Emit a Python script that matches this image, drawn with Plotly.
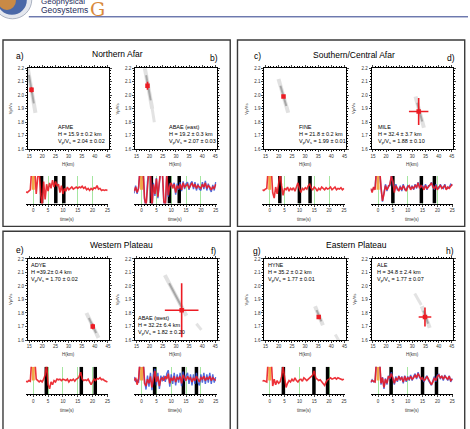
import plotly.graph_objects as go

W, H = 470, 429
def fx(p): return p / W
def fy(p): return 1 - p / H

# ---------------- data ----------------
panel_letters = ["a)", "b)", "c)", "d)", "e)", "f)", "g)", "h)"]
region_titles = ["Northern Afar", "Southern/Central Afar", "Western Plateau", "Eastern Plateau"]
station_names = ["AFME", "ABAE (east)", "FINE", "MILE", "ADYE", "ABAE (west)", "HYNE", "ALE"]
H_km = [15.9, 19.2, 21.8, 32.4, 39.2, 32.2, 35.2, 34.8]
H_err = [0.2, 0.3, 0.2, 3.7, 0.4, 6.4, 0.2, 2.4]
VpVs = [2.04, 2.07, 1.99, 1.88, 1.70, 1.82, 1.77, 1.77]
VpVs_err = [0.02, 0.03, 0.01, 0.10, 0.02, 0.20, 0.01, 0.07]
H_lines = ["H = 15.9 ± 0.2 km", "H = 19.2 ± 0.3 km", "H = 21.8 ± 0.2 km", "H = 32.4 ± 3.7 km",
           "H =39.2± 0.4 km", "H = 32.2± 6.4 km", "H = 35.2 ± 0.2 km", "H = 34.8 ± 2.4 km"]
K_lines = ["2.04 ± 0.02", "2.07 ± 0.03", "1.99 ± 0.01", "1.88 ± 0.10",
           "1.70 ± 0.02", "1.82 ± 0.20", "1.77 ± 0.01", "1.77 ± 0.07"]

# H-k stack ridges (start H, start k, end H, end k)
ridge_h0 = [14.3, 18.1, 19.9, 31.2, 36.8, 25.8, 33.8, 33.6]
ridge_k0 = [2.22, 2.21, 2.12, 1.99, 1.80, 2.08, 1.85, 1.85]
ridge_h1 = [17.4, 21.0, 23.6, 34.4, 41.4, 34.0, 36.8, 36.6]
ridge_k1 = [1.87, 1.90, 1.87, 1.76, 1.615, 1.78, 1.71, 1.69]
# faint secondary ridges
side_h0 = [None, 21.0, None, None, None, 37.8, 41.5, 30.9]
side_k0 = [None, 1.90, None, None, None, 1.72, 1.64, 1.944]
side_h1 = [None, 21.8, None, None, None, 39.7, 43.0, 33.4]
side_k1 = [None, 1.80, None, None, None, 1.675, 1.59, 1.859]

# predicted phase times (s): Ps, PpPs, PsPs
ps_t = [2.8, 3.3, 3.4, 5.0, 4.4, 4.4, 4.6, 4.4]
ppps_t = [7.6, 9.4, 10.0, 14.6, 16.2, 14.1, 14.9, 15.0]
psps_t = [10.3, 12.7, 13.6, 19.0, 20.9, 18.5, 19.5, 19.7]

T = [-2.5, -2.0, -1.5, -1.0, -0.5, 0.0, 0.5, 1.0, 1.5, 2.0,
     2.5, 3.0, 3.5, 4.0, 4.5, 5.0, 5.5, 6.0, 6.5, 7.0,
     7.5, 8.0, 8.5, 9.0, 9.5, 10.0, 10.5, 11.0, 11.5, 12.0,
     12.5, 13.0, 13.5, 14.0, 14.5, 15.0, 15.5, 16.0, 16.5, 17.0,
     17.5, 18.0, 18.5, 19.0, 19.5, 20.0, 20.5, 21.0, 21.5, 22.0,
     22.5, 23.0, 23.5, 24.0, 24.5, 25.0]

red_a = [-0.15, -0.2, -0.1, 0.0, 1.6, 1.8, 1.6, -0.3, 0.9, 1.4,
         -0.3, -1.2, 0.6, -0.7, 0.4, -0.1, 0.5, 0.1, 0.7, 0.2,
         0.6, 0.3, 0.4, -0.2, 0.3, -0.3, 0.1, -0.1, 0.2, 0.0,
         0.1, 0.2, 0.05, 0.15, 0.2, 0.1, 0.2, 0.15, 0.25, 0.1,
         0.2, 0.0, 0.1, -0.05, 0.1, 0.0, 0.15, 0.1, 0.3, 0.05,
         0.1, -0.05, 0.0, -0.05, 0.0, -0.05]
red_b = [-0.1, 0.2, -0.2, 0.1, 1.6, 1.8, 1.6, -0.6, -1.2, 0.5,
         1.5, 1.2, -1.2, 0.4, -0.3, 0.8, -0.5, 0.6, 1.5, 1.4,
         -0.8, -1.3, 1.2, -0.4, 0.3, 0.5, 0.1, 0.4, -0.2, 0.3,
         0.1, 0.4, 0.0, 0.5, 0.2, 0.3, 0.4, 0.1, 0.3, 0.5,
         0.2, 0.4, 0.1, 0.3, 0.2, 0.1, 0.4, 0.2, 0.5, 0.1,
         0.3, 0.2, 0.0, 0.2, 0.1, 0.4]
blue_b = [-0.25, 0.3, -0.3, 0.2, 1.6, 1.8, 1.6, -0.7, -1.3, 0.6,
          1.5, 1.1, -1.3, 0.5, -0.45, 0.85, -0.6, 0.7, 1.5, 1.3,
          -0.9, -1.3, 1.1, -0.5, 0.45, 0.35, 0.25, 0.5, -0.35, 0.45,
          0.0, 0.55, -0.1, 0.6, 0.05, 0.45, 0.55, 0.0, 0.45, 0.6,
          0.05, 0.55, -0.05, 0.45, 0.05, -0.05, 0.55, 0.05, 0.65, -0.05,
          0.45, 0.05, -0.15, 0.35, -0.05, 0.55]
red_c = [0.0, -0.05, 0.05, 0.1, 1.6, 1.8, 1.6, -0.2, -0.6, 0.2,
         -0.3, 0.6, 1.2, 0.3, -0.4, 0.1, 0.0, 0.2, -0.1, 0.1,
         0.0, 0.15, -0.1, 0.2, 0.5, 0.1, -0.2, 0.1, 0.0, 0.15,
         0.05, 0.3, 0.4, 0.1, 0.0, 0.2, 0.1, -0.1, 0.1, 0.0,
         0.2, 0.1, 0.0, 0.15, 0.05, 0.1, 0.2, 0.0, 0.1, 0.2,
         0.0, 0.1, 0.05, 0.15, 0.0, 0.1]
red_d = [0.1, -0.2, 0.2, 0.0, 1.6, 1.8, 1.6, 0.2, -0.8, -0.3,
         0.3, 0.0, 0.2, 0.4, 1.0, 0.6, -0.2, 0.3, 0.1, -0.1,
         0.2, 0.0, 0.3, 0.1, -0.1, 0.2, 0.3, 0.0, 0.2, 0.1,
         0.3, 0.2, 0.5, 0.1, 0.3, 0.2, 0.0, 0.3, 0.1, 0.2,
         0.4, 0.5, 0.2, 0.1, 0.3, 0.0, 0.2, 0.3, 0.1, 0.2,
         0.3, 0.0, 0.2, 0.1, 0.3, 0.4]
blue_d = [0.0, -0.05, 0.1, 0.15, 1.6, 1.8, 1.6, 0.1, -0.85, -0.2,
          0.4, -0.1, 0.3, 0.3, 1.05, 0.5, -0.1, 0.4, 0.0, 0.0,
          0.3, -0.1, 0.4, 0.0, 0.0, 0.3, 0.2, 0.1, 0.3, 0.0,
          0.4, 0.1, 0.55, 0.2, 0.2, 0.3, 0.1, 0.4, 0.0, 0.3,
          0.3, 0.55, 0.3, 0.0, 0.4, 0.1, 0.1, 0.4, 0.2, 0.1,
          0.4, 0.1, 0.1, 0.2, 0.4, 0.3]
red_e = [-0.05, -0.1, 0.0, -0.05, 1.6, 1.8, 1.6, 0.1, 0.0, -0.1,
         0.0, -0.1, 0.1, 0.4, 1.2, -0.3, -0.6, -0.1, -0.3, 0.0,
         -0.1, 0.1, 0.05, 0.1, 0.0, 0.1, 0.05, 0.0, 0.1, -0.1,
         0.05, 0.0, 0.1, -0.05, 0.1, 0.15, 0.3, 0.6, 0.1, 0.0,
         0.05, 0.0, 0.1, -0.1, -0.3, -0.1, 0.1, 0.0, 0.15, 0.1,
         0.2, 0.05, 0.1, 0.0, -0.05, -0.1]
red_f = [0.0, 0.2, -0.3, 0.1, 1.6, 1.8, 1.6, -0.2, -0.4, 0.1,
         -0.2, 0.3, -0.5, 0.2, 0.7, -0.1, 0.3, -0.4, 0.1, 0.2,
         0.0, 0.3, 0.1, 0.5, -0.2, 0.2, 0.0, 0.3, -0.1, 0.2,
         0.1, 0.3, -0.2, 0.4, 0.2, 0.0, 0.3, 0.1, 0.2, -0.1,
         0.2, 0.0, 0.3, 0.1, -0.1, 0.2, 0.1, 0.3, 0.0, 0.2,
         0.1, 0.3, 0.0, 0.2, 0.1, 0.0]
blue_f = [0.25, -0.1, 0.05, -0.15, 1.6, 1.8, 1.6, 0.05, -0.65, 0.35,
          -0.45, 0.55, -0.7, 0.45, 0.85, -0.35, 0.55, -0.6, 0.35, -0.05,
          0.35, -0.1, 0.5, 0.75, -0.45, 0.45, -0.25, 0.55, -0.35, 0.45,
          -0.15, 0.55, -0.4, 0.65, -0.05, 0.35, 0.55, -0.25, 0.45, -0.35,
          0.45, -0.25, 0.55, -0.15, -0.35, 0.45, -0.15, 0.55, -0.25, 0.45,
          -0.15, 0.55, -0.25, 0.45, -0.15, 0.25]
red_g = [-0.05, 0.0, -0.05, -0.1, 1.6, 1.8, 1.6, -0.4, 0.1, -0.3,
         0.0, -0.2, -0.1, 0.3, 1.0, 0.1, -0.5, -0.2, 0.0, -0.1,
         0.1, -0.05, 0.2, 0.0, -0.1, 0.05, 0.1, -0.05, 0.2, 0.1,
         0.0, 0.1, 0.2, 0.3, 0.4, 0.7, 0.2, 0.1, 0.0, 0.05,
         -0.1, -0.2, -0.35, -0.1, 0.05, 0.1, 0.2, 0.1, 0.15, 0.2,
         0.1, 0.2, 0.15, 0.1, 0.05, 0.1]
red_h = [-0.1, 0.0, -0.05, -0.1, 1.6, 1.8, 1.6, -0.2, 0.2, -0.5,
         0.1, -0.2, 0.3, 0.2, 0.5, 0.1, -0.2, 0.2, 0.0, 0.3,
         0.1, 0.2, -0.1, 0.3, 0.0, 0.2, 0.1, 0.3, 0.1, 0.2,
         0.4, 0.2, 0.5, 0.3, 0.1, 0.2, 0.0, 0.1, 0.3, 0.1,
         -0.1, -0.3, -0.1, 0.2, 0.0, 0.3, 0.4, 0.2, 0.3, 0.1,
         0.3, 0.2, 0.1, 0.3, 0.0, 0.1]
blue_h = [-0.15, 0.05, -0.1, -0.05, 1.6, 1.8, 1.6, -0.3, 0.25, -0.6,
          0.15, -0.3, 0.35, 0.1, 0.6, 0.0, -0.3, 0.3, -0.1, 0.35,
          0.0, 0.3, -0.2, 0.35, -0.1, 0.3, 0.0, 0.4, 0.0, 0.3,
          0.5, 0.1, 0.6, 0.2, 0.2, 0.1, -0.1, 0.2, 0.35, 0.0,
          -0.2, -0.35, 0.0, 0.3, -0.1, 0.4, 0.45, 0.1, 0.35, 0.0,
          0.4, 0.15, 0.0, 0.35, -0.1, 0.15]

red_traces = [red_a, red_b, red_c, red_d, red_e, red_f, red_g, red_h]
blue_traces = [None, blue_b, None, blue_d, None, blue_f, None, blue_h]

# ---------------- style ----------------
FONT = "Liberation Sans, Arial, sans-serif"
RED = "#ec1c24"
BLUE = "#3553d6"

fig = go.Figure()
layout = dict(width=W, height=H, margin=dict(l=0, r=0, t=0, b=0),
              paper_bgcolor="white", plot_bgcolor="white", showlegend=False,
              font=dict(family=FONT, size=5, color="black"))
annotations = []
shapes = []

def ann(x, y, text, size, color="black", xanchor="center", yanchor="middle", **kw):
    d = dict(x=fx(x), y=fy(y), xref="paper", yref="paper", text=text, showarrow=False,
             xanchor=xanchor, yanchor=yanchor, font=dict(size=size, color=color))
    d.update(kw)
    annotations.append(d)

def ax_name(n, kind):
    return kind if n == 1 else f"{kind}{n}"

def box_offsets(i):
    bx = 0 if i in (0, 1, 4, 5) else 238
    by = 0 if i < 4 else 193
    return bx, by

for i in range(8):
    n = i + 1
    bx, by = box_offsets(i)
    x0 = (27 if i % 2 == 0 else 135) + bx
    x1 = x0 + 82
    y0, y1 = 67 + by, 149 + by
    xa, ya = ax_name(n, "x"), ax_name(n, "y")
    layout[ax_name(n, "xaxis")] = dict(
        domain=[fx(x0), fx(x1)], anchor=ya, range=[14.5, 45.5],
        tickvals=[15, 20, 25, 30, 35, 40, 45], ticks="outside", ticklen=2, tickwidth=0.7,
        showline=True, linecolor="black", linewidth=0.9, mirror="allticks",
        showgrid=False, zeroline=False, tickfont=dict(size=4.5, color="#333"),
        minor=dict(ticks="outside", dtick=1, ticklen=1, tickwidth=0.5, tickcolor="black"))
    layout[ax_name(n, "yaxis")] = dict(
        domain=[fy(y1), fy(y0)], anchor=xa, range=[1.6, 2.2],
        tickvals=[1.6, 1.7, 1.8, 1.9, 2.0, 2.1, 2.2], ticktext=["1.6", "1.7", "1.8", "1.9", "2.0", "2.1", "2.2"],
        ticks="outside", ticklen=2, tickwidth=0.7,
        showline=True, linecolor="black", linewidth=0.9, mirror="allticks",
        showgrid=False, zeroline=False, tickfont=dict(size=4.5, color="#333"),
        minor=dict(ticks="outside", dtick=0.02, ticklen=1, tickwidth=0.5, tickcolor="black"))

    # ridge: soft band and darker core
    fig.add_trace(go.Scatter(x=[ridge_h0[i], ridge_h1[i]], y=[ridge_k0[i], ridge_k1[i]],
                             mode="lines", line=dict(color="rgba(90,90,90,0.18)", width=4),
                             xaxis=xa, yaxis=ya, hoverinfo="skip"))
    hm0 = ridge_h0[i] + 0.2 * (ridge_h1[i] - ridge_h0[i])
    km0 = ridge_k0[i] + 0.2 * (ridge_k1[i] - ridge_k0[i])
    hm1 = ridge_h0[i] + 0.8 * (ridge_h1[i] - ridge_h0[i])
    km1 = ridge_k0[i] + 0.8 * (ridge_k1[i] - ridge_k0[i])
    fig.add_trace(go.Scatter(x=[hm0, hm1], y=[km0, km1],
                             mode="lines", line=dict(color="rgba(60,60,60,0.35)", width=2),
                             xaxis=xa, yaxis=ya, hoverinfo="skip"))
    if side_h0[i] is not None:
        fig.add_trace(go.Scatter(x=[side_h0[i], side_h1[i]], y=[side_k0[i], side_k1[i]],
                                 mode="lines", line=dict(color="rgba(100,100,100,0.18)", width=3),
                                 xaxis=xa, yaxis=ya, hoverinfo="skip"))
    fig.add_trace(go.Scatter(
        x=[H_km[i]], y=[VpVs[i]], mode="markers",
        marker=dict(color=RED, size=4.5, symbol="square"),
        error_x=dict(type="data", array=[H_err[i]], color=RED, thickness=1.6, width=0),
        error_y=dict(type="data", array=[VpVs_err[i]], color=RED, thickness=1.6, width=0),
        xaxis=xa, yaxis=ya, hoverinfo="skip"))

    # axis titles
    ann((x0 + x1) / 2, 164 + by, "H(km)", 4.5, "#333")
    ann(x0 - 17.5, 108 + by, "Vp/Vs", 4.2, "#333", textangle=-90)

    # station text
    tx = [55, 167, 298, 377, 28.5, 136, 266.5, 376][i]
    ty = [126, 126, 126, 126, 266, 319.5, 266, 266][i]
    lines = [station_names[i], H_lines[i], "V<sub>p</sub>/V<sub>s</sub> = " + K_lines[i]]
    for j, s in enumerate(lines):
        ann(tx, ty + 7.5 * j, s, 5.5, xanchor="left")

    # ---- waveform subplot ----
    m = i + 9
    wx0 = (25 if i % 2 == 0 else 134) + bx
    wx1 = wx0 + 83
    wy0, wy1 = 176 + by, 204 + by
    wxa, wya = ax_name(m, "x"), ax_name(m, "y")
    layout[ax_name(m, "xaxis")] = dict(
        domain=[fx(wx0), fx(wx1)], anchor=wya, range=[-2.5, 25.3],
        tickvals=[0, 5, 10, 15, 20, 25], ticks="outside", ticklen=2, tickwidth=0.7,
        showline=True, linecolor="black", linewidth=0.9, mirror=False,
        showgrid=True, gridcolor="#a6e6a0", gridwidth=1, zeroline=False,
        tickfont=dict(size=4.5, color="#333"),
        minor=dict(ticks="outside", dtick=1, ticklen=1, tickwidth=0.5, tickcolor="black", showgrid=False))
    layout[ax_name(m, "yaxis")] = dict(domain=[fy(wy1), fy(wy0)], anchor=wxa, range=[-1, 1],
                                        visible=False, showgrid=False, zeroline=False)
    # phase bars
    bx_list, by_list = [], []
    for t in (ps_t[i], ppps_t[i], psps_t[i]):
        bx_list += [t, t, None]
        by_list += [-1, 1, None]
    fig.add_trace(go.Scatter(x=bx_list, y=by_list, mode="lines", line=dict(color="black", width=3.5),
                             xaxis=wxa, yaxis=wya, hoverinfo="skip"))
    # direct P
    fig.add_trace(go.Scatter(x=[0, 0], y=[0.0, 1], mode="lines", line=dict(color="#f0a848", width=3),
                             xaxis=wxa, yaxis=wya, hoverinfo="skip"))
    if blue_traces[i] is not None:
        fig.add_trace(go.Scatter(x=T, y=blue_traces[i], mode="lines", line=dict(color=BLUE, width=1.4),
                                 opacity=0.85, xaxis=wxa, yaxis=wya, hoverinfo="skip"))
    fig.add_trace(go.Scatter(x=T, y=red_traces[i], mode="lines", line=dict(color=RED, width=1.6),
                             opacity=0.9, xaxis=wxa, yaxis=wya, hoverinfo="skip"))
    ann((wx0 + wx1) / 2, 220 + by, "time(s)", 4.5, "#333")

# panel letters and region titles
letter_pos = [(19, 55), (214, 57), (258, 55), (453, 57), (19, 251), (214, 252), (258, 252), (452, 252)]
for (lx, ly), s in zip(letter_pos, panel_letters):
    ann(lx, ly, s, 8.5)
title_pos = [(117, 53), (355, 54), (121.5, 246), (357.5, 246)]
for (tx, ty), s in zip(title_pos, region_titles):
    ann(tx, ty, s, 8.5)

# region boxes
for (x0, y0, x1, y1) in [(2, 38.5, 230.7, 227), (238, 38.5, 466.7, 227),
                         (2, 232, 230.7, 445), (238, 232, 466.7, 445)]:
    shapes.append(dict(type="rect", xref="paper", yref="paper", x0=fx(x0), x1=fx(x1),
                       y0=fy(y1), y1=fy(y0), line=dict(color="#3a3a3a", width=1.4)))

# journal header
shapes.append(dict(type="line", xref="paper", yref="paper", x0=fx(28), x1=fx(470), y0=fy(15), y1=fy(15),
                   line=dict(color="#2b3c8a", width=1)))
shapes.append(dict(type="circle", xref="paper", yref="paper", x0=fx(-8), x1=fx(31), y0=fy(17), y1=fy(-22),
                   fillcolor="#e4e7ee", line=dict(color="#9aa3b5", width=0.8)))
shapes.append(dict(type="circle", xref="paper", yref="paper", x0=fx(-4), x1=fx(26), y0=fy(13), y1=fy(-17),
                   fillcolor="#4a68a8", line=dict(width=0)))
shapes.append(dict(type="circle", xref="paper", yref="paper", x0=fx(-3), x1=fx(15), y0=fy(8), y1=fy(-10),
                   fillcolor="#c98a45", line=dict(width=0)))
ann(38, -1, "Geophysical", 8, "#1f2d5c", xanchor="left")
ann(38, 8.5, "Geosystems", 8.5, "#1f2d5c", xanchor="left")
ann(97.5, 7, "G", 19, "#d98a3c")
annotations[-1]["font"]["family"] = "DejaVu Serif, serif"

layout["annotations"] = annotations
layout["shapes"] = shapes
fig.update_layout(**layout)
fig.write_html("out.html")
